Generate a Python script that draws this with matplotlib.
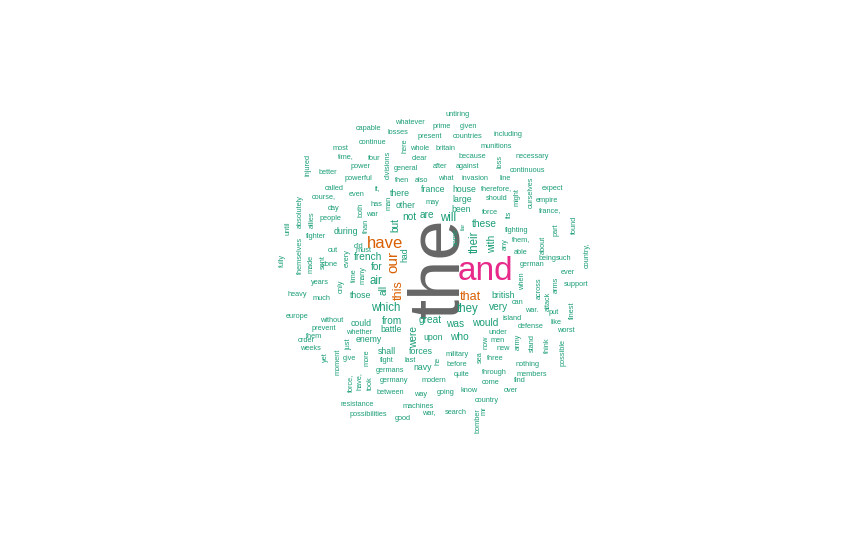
import matplotlib
matplotlib.use("Agg")
import matplotlib.pyplot as plt

# word cloud data: word, x, y (pixel centres), size class, rotation
words = [
    ("the", 440, 268, 52, 90), ("and", 485, 272, 24, 0),
    ("have", 385, 243, 12, 0), ("our", 393, 262, 11, 90),
    ("this", 399, 290, 9, 90), ("that", 470, 297, 9, 0),
    ("untiring", 458, 114, 5, 0), ("whatever", 410, 123, 5, 0), ("prime", 442, 126, 5, 0),
    ("given", 468, 126, 5, 0), ("capable", 368, 129, 5, 0), ("losses", 398, 133, 5, 0),
    ("present", 430, 137, 5, 0), ("countries", 468, 137, 5, 0), ("including", 508, 135, 5, 0),
    ("here", 405, 146, 5, 90), ("continue", 373, 143, 5, 0), ("whole", 420, 148, 5, 0),
    ("britain", 446, 148, 5, 0), ("munitions", 496, 147, 5, 0), ("most", 340, 149, 5, 0),
    ("divisions", 388, 165, 5, 90), ("time,", 346, 157, 5, 0), ("four", 374, 158, 5, 0),
    ("clear", 420, 159, 5, 0), ("because", 472, 157, 5, 0), ("loss", 500, 161, 5, 90),
    ("necessary", 532, 156, 5, 0), ("injured", 308, 165, 5, 90), ("power", 361, 166, 5, 0),
    ("general", 406, 169, 5, 0), ("after", 440, 166, 5, 0), ("against", 467, 166, 5, 0),
    ("better", 328, 172, 5, 0), ("continuous", 527, 170, 5, 0), ("powerful", 358, 178, 5, 0),
    ("then", 402, 180, 5, 0), ("also", 421, 180, 5, 0), ("what", 446, 179, 5, 0),
    ("invasion", 475, 178, 5, 0), ("line", 505, 179, 5, 0), ("called", 334, 188, 5, 0),
    ("it,", 377, 189, 5, 0), ("man", 389, 203, 5, 90), ("ourselves", 531, 192, 5, 90),
    ("france", 433, 189, 6, 0), ("house", 464, 189, 6, 0), ("therefore,", 497, 189, 5, 0),
    ("expect", 553, 188, 5, 0), ("course,", 324, 198, 5, 0), ("even", 357, 194, 5, 0),
    ("there", 400, 193, 6, 0), ("absolutely", 300, 212, 5, 90), ("large", 462, 199, 6, 0),
    ("should", 497, 198, 5, 0), ("empire", 547, 201, 5, 0), ("day", 334, 208, 5, 0),
    ("has", 376, 204, 5, 0), ("both", 361, 210, 5, 90), ("may", 432, 202, 5, 0),
    ("its", 509, 214, 5, 90), ("might", 517, 197, 5, 90), ("other", 406, 206, 6, 0),
    ("been", 461, 209, 6, 0), ("force", 490, 212, 5, 0), ("france,", 550, 211, 5, 0),
    ("allies", 312, 220, 5, 90), ("people", 330, 218, 5, 0), ("war", 372, 214, 5, 0),
    ("than", 366, 226, 5, 90), ("are", 427, 215, 7, 0), ("not", 409, 217, 7, 0),
    ("will", 448, 218, 8, 0), ("these", 484, 224, 7, 0), ("fighting", 517, 230, 5, 0),
    ("part", 556, 230, 5, 90), ("found", 574, 225, 5, 90), ("until", 288, 228, 5, 90),
    ("themselves", 300, 255, 5, 90), ("fighter", 316, 236, 5, 0), ("during", 346, 232, 6, 0),
    ("must", 364, 251, 5, 0), ("but", 395, 225, 7, 90), ("their", 475, 242, 8, 90),
    ("some", 456, 237, 5, 90), ("far", 463, 226, 4, 90), ("with", 492, 244, 7, 90),
    ("any", 505, 244, 5, 90), ("them,", 521, 240, 5, 0), ("about", 543, 245, 5, 90),
    ("done", 330, 265, 5, 0), ("out", 333, 250, 5, 0), ("did", 359, 246, 5, 0),
    ("every", 347, 258, 5, 90), ("french", 368, 257, 7, 0), ("had", 405, 255, 6, 90),
    ("able", 521, 253, 5, 0), ("being", 547, 258, 5, 0), ("fully", 282, 260, 5, 90),
    ("made", 311, 264, 5, 90), ("sent", 323, 262, 5, 90), ("time", 354, 275, 5, 90),
    ("many", 363, 275, 5, 90), ("for", 377, 267, 7, 0), ("air", 376, 281, 8, 0),
    ("german", 532, 264, 5, 0), ("such", 564, 258, 5, 0), ("ever", 568, 272, 5, 0),
    ("country,", 587, 255, 5, 90), ("when", 523, 281, 5, 90), ("years", 320, 283, 5, 0),
    ("only", 341, 286, 5, 90), ("all", 384, 290, 7, 90), ("across", 539, 288, 5, 90),
    ("arms", 556, 285, 5, 90), ("support", 576, 285, 5, 0), ("heavy", 297, 294, 5, 0),
    ("those", 361, 296, 6, 0), ("british", 503, 295, 6, 0), ("can", 518, 302, 5, 0),
    ("war.", 532, 310, 5, 0), ("attack", 548, 301, 5, 90), ("much", 322, 299, 5, 0),
    ("which", 386, 308, 8, 0), ("they", 468, 309, 8, 0), ("very", 499, 307, 7, 0),
    ("finest", 572, 310, 5, 90), ("europe", 297, 317, 5, 0), ("without", 332, 320, 5, 0),
    ("put", 554, 312, 5, 0), ("from", 392, 321, 7, 0), ("could", 361, 323, 6, 0),
    ("great", 430, 320, 7, 0), ("was", 455, 324, 7, 0), ("would", 485, 323, 7, 0),
    ("island", 512, 318, 5, 0), ("like", 556, 323, 5, 0), ("prevent", 324, 328, 5, 0),
    ("battle", 391, 330, 6, 0), ("defense", 531, 326, 5, 0), ("under", 498, 332, 5, 0),
    ("were", 414, 337, 7, 90), ("upon", 433, 338, 6, 0), ("who", 459, 337, 7, 0),
    ("them", 314, 337, 5, 0), ("whether", 359, 333, 5, 0), ("men", 498, 341, 5, 0),
    ("army", 518, 342, 5, 90), ("stand", 532, 343, 5, 90), ("think", 547, 345, 5, 90),
    ("worst", 566, 331, 5, 0), ("order", 306, 340, 5, 0), ("just", 349, 344, 5, 90),
    ("enemy", 369, 339, 6, 0), ("now", 486, 342, 5, 90), ("sea", 480, 357, 5, 90),
    ("possible", 563, 353, 5, 90), ("weeks", 310, 349, 5, 0), ("shall", 387, 351, 6, 0),
    ("forces", 421, 352, 6, 0), ("new", 503, 349, 5, 0), ("three", 495, 358, 5, 0),
    ("yet", 325, 357, 5, 90), ("give", 349, 358, 5, 0), ("more", 367, 358, 5, 90),
    ("fight", 387, 360, 5, 0), ("last", 410, 360, 5, 0), ("military", 457, 354, 5, 0),
    ("moment", 338, 362, 5, 90), ("he", 438, 361, 5, 90), ("before", 457, 365, 5, 0),
    ("nothing", 528, 364, 5, 0), ("navy", 423, 367, 6, 0), ("germans", 390, 370, 5, 0),
    ("quite", 462, 375, 5, 0), ("through", 494, 372, 5, 0), ("members", 532, 375, 5, 0),
    ("force,", 350, 383, 5, 90), ("have,", 359, 381, 5, 90), ("took", 370, 383, 5, 90),
    ("germany", 394, 381, 5, 0), ("modern", 434, 381, 5, 0), ("come", 491, 382, 5, 0),
    ("find", 520, 381, 5, 0), ("between", 390, 393, 5, 0), ("way", 421, 395, 5, 0),
    ("going", 446, 393, 5, 0), ("know", 469, 391, 5, 0), ("over", 511, 391, 5, 0),
    ("resistance", 357, 404, 5, 0), ("machines", 418, 406, 5, 0), ("country", 487, 400, 5, 0),
    ("possibilities", 368, 414, 5, 0), ("good", 403, 418, 5, 0), ("war,", 429, 414, 5, 0),
    ("search", 456, 412, 5, 0), ("mr", 484, 411, 5, 90), ("bomber", 478, 421, 5, 90),
]

special_colors = {"the": "#666666", "and": "#E7298A", "have": "#D95F02",
                  "our": "#D95F02", "this": "#D95F02", "that": "#D95F02"}
size_pt = {4: 4.6, 5: 5.3, 6: 6.3, 7: 7.3, 8: 8.3}
default_color = "#1B9E77"

fig = plt.figure(figsize=(8.65, 5.38), dpi=100)
ax = fig.add_axes([0, 0, 1, 1])
ax.set_xlim(0, 865)
ax.set_ylim(538, 0)
ax.axis("off")

for word, x, y, s, rot in words:
    ax.text(x, y, word, fontsize=size_pt.get(s, s), rotation=rot,
            color=special_colors.get(word, default_color),
            ha="center", va="center", family="Liberation Sans")

fig.savefig("out.png", dpi=100)
